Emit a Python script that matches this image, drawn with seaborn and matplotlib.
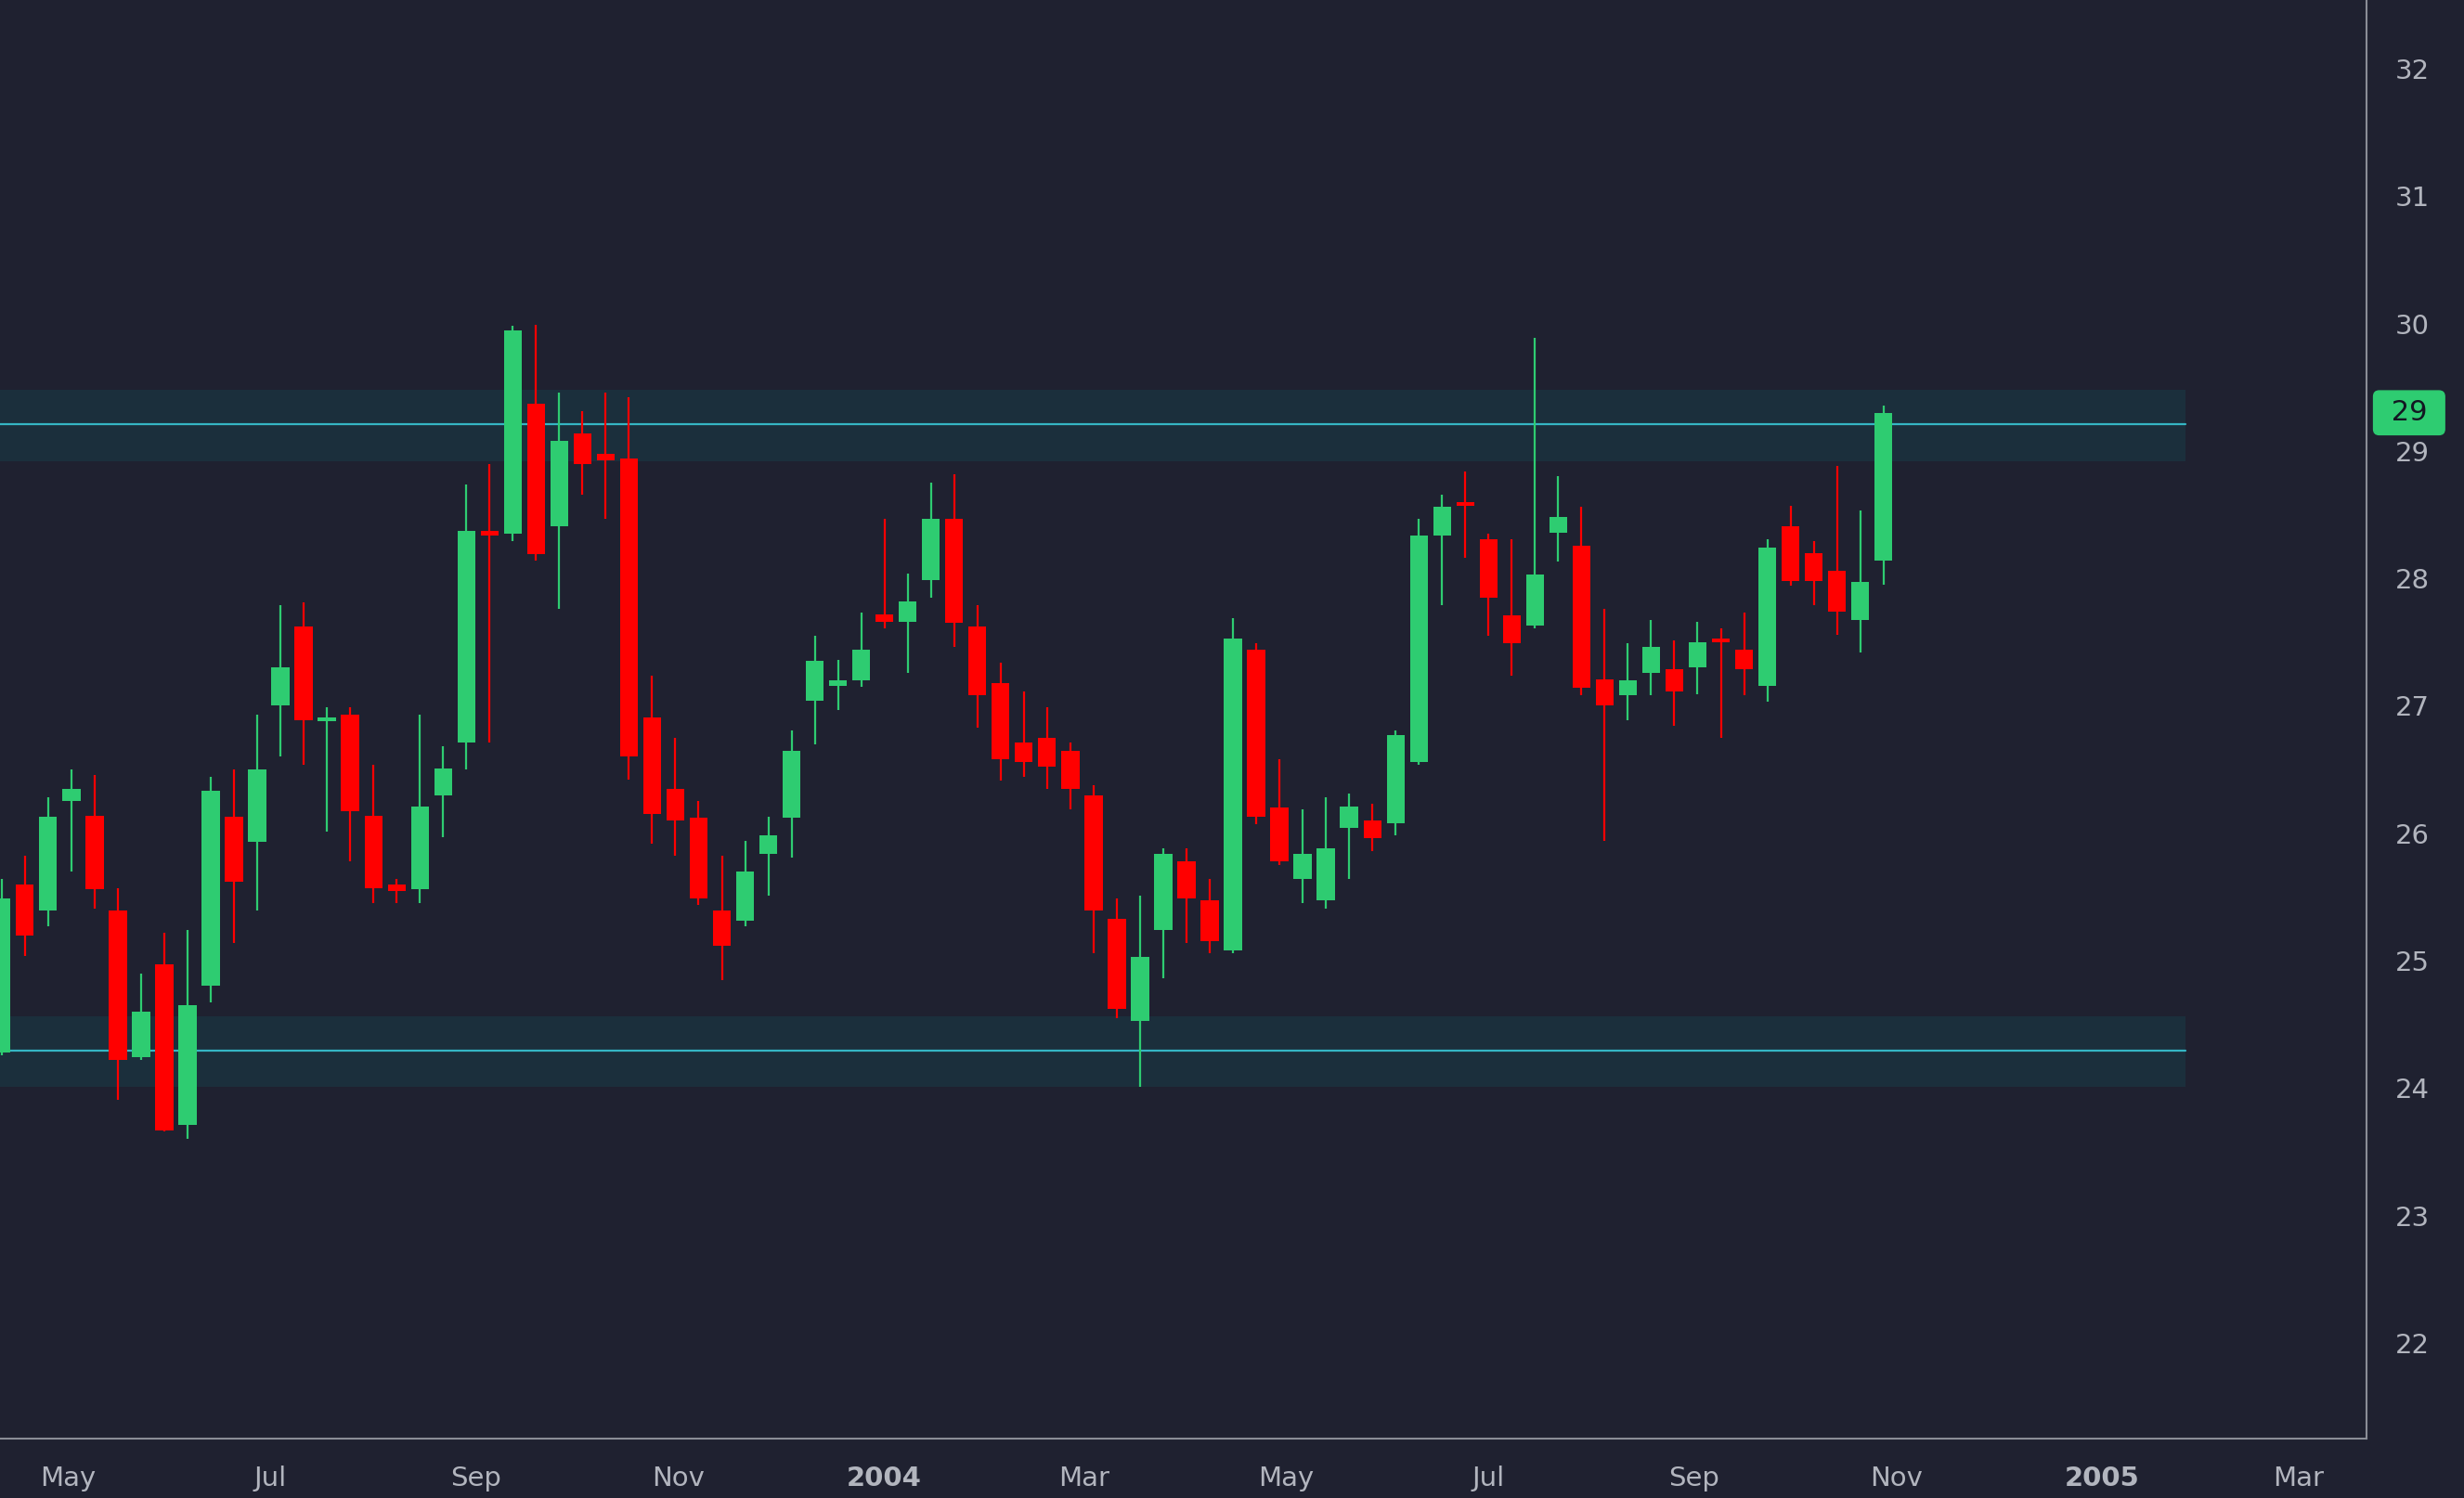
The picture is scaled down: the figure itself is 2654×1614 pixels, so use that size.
import numpy as np
import pandas as pd
import matplotlib
matplotlib.use("Agg")
import matplotlib.pyplot as plt
import matplotlib.dates as mdates
import matplotlib.transforms as mtransforms
import seaborn as sns

# weekly OHLC
opens = [24.28, 25.60, 25.39, 26.25, 26.14, 25.39, 24.24, 24.97, 23.71, 24.80,
         26.13, 25.93, 27.00, 27.62, 26.88, 26.93, 26.14, 25.60, 25.56, 26.30,
         26.71, 28.37, 28.35, 29.37, 28.41, 29.14, 28.98, 28.94, 26.91, 26.35,
         26.12, 25.39, 25.31, 25.84, 26.12, 27.04, 27.16, 27.20, 27.72, 27.66,
         27.99, 28.47, 27.62, 27.18, 26.71, 26.75, 26.65, 26.30, 25.33, 24.53,
         25.24, 25.78, 25.47, 25.08, 27.44, 26.20, 25.64, 25.47, 26.04, 26.10,
         26.08, 26.56, 28.34, 28.59, 28.31, 27.71, 27.63, 28.36, 28.26, 27.21,
         27.08, 27.26, 27.29, 27.30, 27.52, 27.44, 27.16, 28.41, 28.20, 28.06,
         27.67, 28.14]
closes = [25.49, 25.20, 26.13, 26.35, 25.56, 24.22, 24.60, 23.67, 24.65, 26.33,
          25.62, 26.50, 27.30, 26.89, 26.91, 26.17, 25.57, 25.55, 26.21, 26.51,
          28.37, 28.34, 29.95, 28.19, 29.08, 28.90, 28.93, 26.60, 26.15, 26.10,
          25.49, 25.12, 25.70, 25.98, 26.65, 27.35, 27.20, 27.44, 27.66, 27.82,
          28.47, 27.65, 27.08, 26.58, 26.56, 26.52, 26.35, 25.39, 24.62, 25.03,
          25.84, 25.49, 25.15, 27.53, 26.13, 25.78, 25.84, 25.88, 26.21, 25.96,
          26.77, 28.34, 28.56, 28.57, 27.85, 27.49, 28.03, 28.48, 27.14, 27.00,
          27.20, 27.46, 27.11, 27.50, 27.50, 27.29, 28.24, 27.98, 27.98, 27.74,
          27.97, 29.30]
highs = [25.64, 25.82, 26.28, 26.50, 26.46, 25.57, 24.90, 25.22, 25.24, 26.44,
         26.50, 26.93, 27.79, 27.81, 26.99, 26.99, 26.54, 25.64, 26.93, 26.68,
         28.74, 28.90, 29.98, 29.99, 29.46, 29.31, 29.46, 29.42, 27.24, 26.75,
         26.25, 25.82, 25.94, 26.13, 26.81, 27.55, 27.36, 27.73, 28.47, 28.04,
         28.75, 28.82, 27.79, 27.34, 27.11, 26.99, 26.71, 26.38, 25.49, 25.51,
         25.88, 25.88, 25.64, 27.69, 27.49, 26.58, 26.19, 26.28, 26.31, 26.23,
         26.81, 28.47, 28.66, 28.84, 28.35, 28.31, 29.89, 28.80, 28.56, 27.76,
         27.49, 27.67, 27.51, 27.66, 27.61, 27.73, 28.31, 28.57, 28.29, 28.88,
         28.53, 29.36]
lows = [24.26, 25.04, 25.27, 25.70, 25.41, 23.91, 24.22, 23.66, 23.60, 24.67,
        25.14, 25.39, 26.60, 26.54, 26.01, 25.78, 25.45, 25.45, 25.45, 25.97,
        26.50, 26.71, 28.29, 28.14, 27.76, 28.66, 28.47, 26.42, 25.92, 25.82,
        25.44, 24.85, 25.27, 25.51, 25.81, 26.70, 26.97, 27.15, 27.61, 27.26,
        27.85, 27.46, 26.83, 26.41, 26.44, 26.35, 26.19, 25.06, 24.55, 24.01,
        24.86, 25.14, 25.06, 25.06, 26.07, 25.75, 25.45, 25.41, 25.64, 25.86,
        25.98, 26.54, 27.79, 28.16, 27.55, 27.24, 27.61, 28.13, 27.08, 25.94,
        26.89, 27.08, 26.84, 27.09, 26.75, 27.08, 27.03, 27.94, 27.79, 27.56,
        27.42, 27.95]

first_week = "2003-04-14"
resistance = (28.92, 29.21, 29.48)   # band low, line, band high
support = (24.01, 24.29, 24.56)
band_end = "2005-01-31"
last_label = "29"

tick_dates = ["2003-05-04", "2003-07-04", "2003-09-04", "2003-11-04", "2004-01-05",
              "2004-03-05", "2004-05-05", "2004-07-05", "2004-09-05", "2004-11-05",
              "2005-01-06", "2005-03-06"]
tick_labels = ["May", "Jul", "Sep", "Nov", "2004", "Mar", "May", "Jul", "Sep", "Nov",
               "2005", "Mar"]

BG = "#1f2130"
UP = "#2ecc71"
DOWN = "#ff0000"
TXT = "#b2b5be"

sns.set_style("dark", {"axes.facecolor": BG, "figure.facecolor": BG})

df = pd.DataFrame({
    "date": pd.date_range(first_week, periods=len(opens), freq="W-MON"),
    "open": opens, "close": closes, "high": highs, "low": lows,
})
df["up"] = df["close"] >= df["open"]
df["x"] = mdates.date2num(df["date"])

fig = plt.figure(figsize=(26.54, 16.14), dpi=100)
ax = fig.add_axes([0.0, 0.0398, 0.9605, 0.9602])
ax.set_facecolor(BG)

# support / resistance bands
x0 = df["x"].iloc[0] - 14
x1 = mdates.date2num(pd.Timestamp(band_end))
for lo, mid, hi in (resistance, support):
    ax.fill_between([x0, x1], lo, hi, color="#1b2f3c", zorder=1, lw=0)
    ax.plot([x0, x1], [mid, mid], color="#35b6c4", lw=1.6, zorder=2)

colors = np.where(df["up"], UP, DOWN)
ax.vlines(df["x"], df["low"], df["high"], colors=colors, lw=1.6, zorder=3)
body_lo = np.minimum(df["open"], df["close"])
body_h = np.maximum(np.abs(df["close"] - df["open"]), 0.03)
ax.bar(df["x"], body_h, bottom=body_lo, width=5.4, color=colors, zorder=4, lw=0)

ax.set_xlim(df["x"].iloc[0] - 0.5, df["x"].iloc[0] + 101.8 * 7)
ax.set_ylim(21.25, 32.54)
ax.grid(False)

ax.set_xticks(mdates.date2num(pd.to_datetime(tick_dates)))
ax.set_xticklabels(tick_labels)
for lbl in ax.get_xticklabels():
    lbl.set_fontsize(21)
    lbl.set_color(TXT)
    if lbl.get_text().isdigit():
        lbl.set_fontweight("bold")
ax.yaxis.tick_right()
ax.set_yticks(range(22, 33))
ax.tick_params(axis="y", labelsize=21, labelcolor=TXT, length=0, pad=22)
ax.tick_params(axis="x", length=0, pad=21)

for side in ("top", "left"):
    ax.spines[side].set_visible(False)
for side in ("right", "bottom"):
    ax.spines[side].set_visible(True)
    ax.spines[side].set_color("#8a8d96")
    ax.spines[side].set_linewidth(1.5)

trans = mtransforms.blended_transform_factory(ax.transAxes, ax.transData)
ax.text(1.0065, closes[-1], " " + last_label + " ", transform=trans, fontsize=22,
        color="#131722", va="center", ha="left",
        bbox=dict(boxstyle="round,pad=0.3,rounding_size=0.2", fc=UP, ec=UP))

fig.savefig("out.png", dpi=100, facecolor=BG)
